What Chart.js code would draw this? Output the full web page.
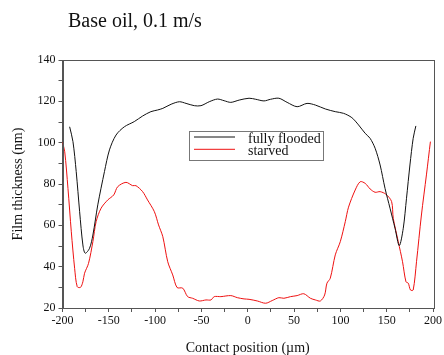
<!DOCTYPE html>
<html lang="en">

<head>
    <meta charset="UTF-8">
    <script src="https://cdn.jsdelivr.net/npm/chart.js@4.4.0/dist/chart.umd.min.js"></script>
    <title>Base oil, 0.1 m/s</title>
    <style>
        html, body { margin: 0; padding: 0; background: #fff; }
        #box { width: 444px; height: 355px; }
    </style>
</head>

<body>
    <div id="box"><canvas id="chart" width="444" height="355"></canvas></div>
</body>

</html>
<script>
    // valores
    var floodedX = [-192.3, -188.7, -185.2, -181.5, -178, -175.5, -170.8, -167.2, -161.9, -154.7, -149.3, -142.2, -133.2,
        -122.5, -113.5, -104.6, -97.4, -91.7, -82.7, -73.8, -66.6, -57.7, -50.5, -41.6, -32.7, -25.5, -18.3, -9.3, 1.4,
        8.6, 17.5, 24.7, 33.6, 42.5, 53.3, 64, 73, 83.8, 94.5, 103.4, 112.4, 119.6, 126.8, 132.1, 137.5, 142.9, 148.2,
        153.6, 159, 163.6, 167.9, 171.4, 175.1, 178.6, 181.5];
    var floodedY = [107.7, 100.5, 86, 66.6, 50.5, 46.5, 48.9, 55.3, 69.9, 86, 96.5, 103.7, 107.7,
        110.2, 112.9, 115, 115.8, 116.6, 118.6, 119.8, 119, 117.9, 117.9, 119.8, 121.1, 120.3, 119.5, 120.6, 121.5,
        121, 120.2, 121, 121.5, 119.5, 117.4, 119, 118.2, 116.3, 115, 114.2, 112.1, 108.6, 104.5, 102.1, 97.3, 89.2, 77.9,
        68.3, 58.6, 50.2, 58.6, 73.1, 89.2, 102.1, 108.1];

    var starvedX = [-200, -197.6, -194.1, -190.5, -186.9, -184.1, -180.5, -178, -176.2, -171.9, -167.2, -163.7, -158.3,
        -151.1, -144.7, -140.4, -131.5, -124.3, -120.7, -113.5, -108.2, -100.8, -96.3, -91.7, -86.4, -81, -76.3, -70.2,
        -64.9, -59.5, -52.3, -45.1, -39.7, -36.2, -29, -18.3, -11.2, -4, 1.4, 10.3, 19.3, 26.4, 33.6, 39, 46.2, 53.3,
        60.5, 67.7, 73, 78.4, 83, 85.5, 89.1, 94.5, 99.9, 105.3, 108.8, 116, 121.4, 126.8, 132.1, 137.5, 142.9, 149.3,
        155.3, 157.1, 162.5, 167.1, 170.8, 173.3, 175.7, 178.6, 182.2, 187.5, 192.9, 197.2];
    var starvedY = [100.2, 95.6, 77.9, 56.9, 39.2, 30.3, 30, 32.7, 36.8, 41.6, 52.1, 61.8, 68.3,
        72.3, 74.7, 78.7, 80.8, 79.2, 79.2, 76.3, 72.3, 66.6, 60.2, 54.5, 42.4, 36, 29.9, 29.6,
        25.5, 24.7, 23.4, 23.9, 23.9, 25.5, 25.5, 26, 25, 24.4, 24.2, 23.4, 22.3, 23.6, 25, 24.7, 25.5, 26,
        26.9, 24.7, 23.9, 23.4, 26.3, 32, 34.4, 45.7, 52.1, 61.8, 68.8, 77.1, 81.1, 80.3, 77.6, 76, 76.3, 75,
        71.5, 63.4, 52.1, 42.4, 32.7, 32, 28.7, 28.7, 42.4, 65, 84.4, 100.5];

    var seriesNames = ["fully flooded", "starved"];
    var chartTitle = "Base oil, 0.1 m/s";
    var xTitle = "Contact position (\u00b5m)";
    var yTitle = "Film thickness (nm)";

    var serif = "'Liberation Serif', 'DejaVu Serif', serif";

    function pontos(xs, ys) {
        return xs.map(function (x, i) { return { x: x, y: ys[i] }; });
    }

    // titulo, moldura e legenda desenhados a mao
    var extras = {
        id: "extras",
        afterDraw: function (chart) {
            var ctx = chart.ctx;
            var a = chart.chartArea;
            ctx.save();
            ctx.fillStyle = "#111";
            ctx.font = "20px " + serif;
            ctx.textBaseline = "alphabetic";
            ctx.fillText(chartTitle, 68, 27);

            ctx.strokeStyle = "#555";
            ctx.lineWidth = 1;
            ctx.strokeRect(Math.round(a.left) + 0.5, Math.round(a.top) + 0.5,
                Math.round(a.right - a.left), Math.round(a.bottom - a.top));

            // legenda
            ctx.strokeStyle = "#777";
            ctx.strokeRect(189.5, 131.5, 134, 29);
            var ds = chart.data.datasets;
            ctx.font = "14px " + serif;
            for (var i = 0; i < ds.length; i++) {
                var y = 137 + i * 12.3;
                ctx.strokeStyle = ds[i].borderColor;
                ctx.beginPath();
                ctx.moveTo(194, y);
                ctx.lineTo(235, y);
                ctx.stroke();
                ctx.fillStyle = "#111";
                ctx.fillText(ds[i].label, 248, y + 6);
            }
            ctx.restore();
        }
    };

    var ctx = document.getElementById("chart").getContext("2d");

    new Chart(ctx, {
        type: "line",
        data: {
            datasets: [
                {
                    label: seriesNames[0],
                    data: pontos(floodedX, floodedY),
                    borderColor: "#111",
                    borderWidth: 1,
                    pointRadius: 0,
                    tension: 0.3,
                    fill: false
                },
                {
                    label: seriesNames[1],
                    data: pontos(starvedX, starvedY),
                    borderColor: "#ee1111",
                    borderWidth: 1,
                    pointRadius: 0,
                    tension: 0.3,
                    fill: false
                }
            ]
        },
        options: {
            responsive: false,
            animation: false,
            layout: { padding: { top: 60, right: 9, left: 0, bottom: 0 } },
            plugins: {
                legend: { display: false },
                title: { display: false },
                tooltip: { enabled: false }
            },
            scales: {
                x: {
                    type: "linear",
                    min: -200,
                    max: 200,
                    afterFit: function (s) { s.height = 47; },
                    border: { color: "#555", width: 1 },
                    grid: { drawOnChartArea: false, drawTicks: true, tickLength: 4, color: "#555" },
                    ticks: {
                        stepSize: 25,
                        autoSkip: false,
                        maxRotation: 0,
                        padding: 2,
                        color: "#111",
                        font: { family: serif, size: 12 },
                        callback: function (v) { return v % 50 === 0 ? String(v) : ""; }
                    },
                    title: {
                        display: true,
                        text: xTitle,
                        color: "#111",
                        padding: 0,
                        font: { family: serif, size: 14, lineHeight: 1 }
                    }
                },
                y: {
                    min: 20,
                    max: 140,
                    afterFit: function (s) { s.width = 62.5; },
                    border: { color: "#555", width: 1 },
                    grid: { drawOnChartArea: false, drawTicks: true, tickLength: 4, color: "#555" },
                    ticks: {
                        stepSize: 10,
                        autoSkip: false,
                        padding: 3,
                        color: "#111",
                        font: { family: serif, size: 12 },
                        callback: function (v) { return v % 20 === 0 ? String(v) : ""; }
                    },
                    title: {
                        display: true,
                        text: yTitle,
                        color: "#111",
                        padding: { top: 10, bottom: 0 },
                        font: { family: serif, size: 14 }
                    }
                }
            }
        },
        plugins: [extras]
    });
</script>
